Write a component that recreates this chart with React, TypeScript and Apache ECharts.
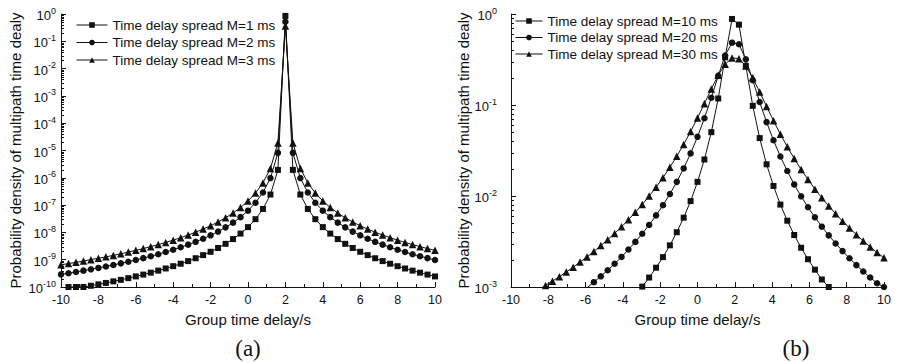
import React, { useEffect, useRef } from "react";
import * as echarts from "echarts";

const FONT = "'Liberation Sans', Arial, sans-serif";
const SERIF = "'Liberation Serif', 'Times New Roman', serif";
const INK = "#111";

// ---- Panel (a) ----
const xA = [-10, -9.6, -9.2, -8.8, -8.4, -8, -7.6, -7.2, -6.8, -6.4, -6, -5.6, -5.2, -4.8, -4.4, -4, -3.6, -3.2, -2.8, -2.4, -2, -1.6, -1.2, -0.8, -0.4, 0, 0.4, 0.8, 1.2, 1.6, 2, 2.4, 2.8, 3.2, 3.6, 4, 4.4, 4.8, 5.2, 5.6, 6, 6.4, 6.8, 7.2, 7.6, 8, 8.4, 8.8, 9.2, 9.6, 10];
const namesA = ["Time delay spread M=1 ms", "Time delay spread M=2 ms", "Time delay spread M=3 ms"];
const m1 = [7.2e-11, 1.0e-10, 1.0e-10, 1.0e-10, 1.11e-10, 1.25e-10, 1.41e-10, 1.61e-10, 1.83e-10, 2.11e-10, 2.44e-10, 2.85e-10, 3.35e-10, 3.98e-10, 4.77e-10, 5.79e-10, 7.12e-10, 8.89e-10, 1.13e-9, 1.47e-9, 1.95e-9, 2.68e-9, 3.81e-9, 5.69e-9, 9.04e-9, 1.56e-8, 3.05e-8, 7.23e-8, 2.44e-7, 1.95e-6, 0.85, 1.95e-6, 2.44e-7, 7.23e-8, 3.05e-8, 1.56e-8, 9.04e-9, 5.69e-9, 3.81e-9, 2.68e-9, 1.95e-9, 1.47e-9, 1.13e-9, 8.89e-10, 7.12e-10, 5.79e-10, 4.77e-10, 3.98e-10, 3.35e-10, 2.85e-10, 2.44e-10];
const m2 = [2.89e-10, 3.2e-10, 3.56e-10, 3.97e-10, 4.44e-10, 5.0e-10, 5.65e-10, 6.42e-10, 7.34e-10, 8.44e-10, 9.77e-10, 1.14e-9, 1.34e-9, 1.59e-9, 1.91e-9, 2.31e-9, 2.85e-9, 3.56e-9, 4.52e-9, 5.87e-9, 7.81e-9, 1.07e-8, 1.53e-8, 2.28e-8, 3.62e-8, 6.25e-8, 1.22e-7, 2.89e-7, 9.77e-7, 8.2e-6, 0.52, 8.2e-6, 9.77e-7, 2.89e-7, 1.22e-7, 6.25e-8, 3.62e-8, 2.28e-8, 1.53e-8, 1.07e-8, 7.81e-9, 5.87e-9, 4.52e-9, 3.56e-9, 2.85e-9, 2.31e-9, 1.91e-9, 1.59e-9, 1.34e-9, 1.14e-9, 9.77e-10];
const m3 = [6.51e-10, 7.21e-10, 8.01e-10, 8.93e-10, 1.0e-9, 1.13e-9, 1.27e-9, 1.44e-9, 1.65e-9, 1.9e-9, 2.2e-9, 2.56e-9, 3.01e-9, 3.58e-9, 4.29e-9, 5.21e-9, 6.41e-9, 8.0e-9, 1.02e-8, 1.32e-8, 1.76e-8, 2.41e-8, 3.43e-8, 5.13e-8, 8.14e-8, 1.41e-7, 2.75e-7, 6.51e-7, 2.2e-6, 1.9e-5, 0.36, 1.9e-5, 2.2e-6, 6.51e-7, 2.75e-7, 1.41e-7, 8.14e-8, 5.13e-8, 3.43e-8, 2.41e-8, 1.76e-8, 1.32e-8, 1.02e-8, 8.0e-9, 6.41e-9, 5.21e-9, 4.29e-9, 3.58e-9, 3.01e-9, 2.56e-9, 2.2e-9];

// ---- Panel (b) ----
const xB = [-10, -9.63, -9.259, -8.889, -8.519, -8.148, -7.778, -7.407, -7.037, -6.667, -6.296, -5.926, -5.556, -5.185, -4.815, -4.444, -4.074, -3.704, -3.333, -2.963, -2.593, -2.222, -1.852, -1.481, -1.111, -0.741, -0.37, 0, 0.37, 0.741, 1.111, 1.481, 1.852, 2.222, 2.593, 2.963, 3.333, 3.704, 4.074, 4.444, 4.815, 5.185, 5.556, 5.926, 6.296, 6.667, 7.037, 7.407, 7.778, 8.148, 8.519, 8.889, 9.259, 9.63, 10];
const namesB = ["Time delay spread M=10 ms", "Time delay spread M=20 ms", "Time delay spread M=30 ms"];
const m10 = [7.2e-5, 7.9e-5, 8.8e-5, 9.7e-5, 1.07e-4, 1.2e-4, 1.33e-4, 1.5e-4, 1.69e-4, 1.91e-4, 2.18e-4, 2.5e-4, 2.88e-4, 3.35e-4, 3.92e-4, 4.63e-4, 5.52e-4, 6.66e-4, 8.13e-4, 1.01e-3, 1.27e-3, 1.63e-3, 2.13e-3, 2.87e-3, 4.0e-3, 5.78e-3, 8.79e-3, 0.0143, 0.0252, 0.0503, 0.118, 0.334, 0.882, 0.764, 0.268, 0.0979, 0.0433, 0.0223, 0.0129, 8.05e-3, 5.35e-3, 3.73e-3, 2.7e-3, 2.02e-3, 1.55e-3, 1.21e-3, 1.0e-3, 7.8e-4, 6.4e-4, 5.3e-4, 4.5e-4, 3.8e-4, 3.2e-4, 2.8e-4, 2.4e-4];
const m20 = [2.86e-4, 3.14e-4, 3.46e-4, 3.83e-4, 4.24e-4, 4.71e-4, 5.27e-4, 5.91e-4, 6.65e-4, 7.53e-4, 8.57e-4, 9.81e-4, 1.13e-3, 1.31e-3, 1.53e-3, 1.8e-3, 2.14e-3, 2.58e-3, 3.13e-3, 3.85e-3, 4.81e-3, 6.12e-3, 7.93e-3, 0.0105, 0.0143, 0.0201, 0.0294, 0.0447, 0.0715, 0.12, 0.209, 0.35, 0.484, 0.465, 0.318, 0.187, 0.108, 0.0648, 0.041, 0.0272, 0.0188, 0.0134, 9.92e-3, 7.52e-3, 5.83e-3, 4.6e-3, 3.69e-3, 3.01e-3, 2.48e-3, 2.07e-3, 1.74e-3, 1.48e-3, 1.27e-3, 1.1e-3, 1.0e-3];
const m30 = [6.36e-4, 6.98e-4, 7.68e-4, 8.47e-4, 9.38e-4, 1.04e-3, 1.16e-3, 1.3e-3, 1.46e-3, 1.65e-3, 1.88e-3, 2.14e-3, 2.46e-3, 2.85e-3, 3.31e-3, 3.88e-3, 4.59e-3, 5.48e-3, 6.62e-3, 8.07e-3, 9.97e-3, 0.0125, 0.0159, 0.0207, 0.0273, 0.0369, 0.051, 0.072, 0.1035, 0.15, 0.212, 0.281, 0.329, 0.323, 0.268, 0.199, 0.139, 0.0962, 0.0671, 0.0477, 0.0347, 0.0258, 0.0196, 0.0152, 0.0119, 9.55e-3, 7.75e-3, 6.37e-3, 5.29e-3, 4.44e-3, 3.76e-3, 3.21e-3, 2.76e-3, 2.39e-3, 2.09e-3];

const xTicks = [-10, -8, -6, -4, -2, 0, 2, 4, 6, 8, 10];
const yTitle = "Probability density of multipath time dealy";
const xTitle = "Group time delay/s";
const symbols = ["rect", "circle", "triangle"];
const symbolSizes = [6, 6.5, 7.5];

function logMinors(lo: number, hi: number) {
  const out: number[] = [];
  for (let e = lo; e < hi; e++) for (let m = 2; m <= 9; m++) out.push(m * Math.pow(10, e));
  return out;
}

function minorTickSeries(idx: number, vals: number[]) {
  return {
    type: "custom",
    xAxisIndex: idx,
    yAxisIndex: idx,
    silent: true,
    clip: false,
    z: 5,
    data: vals.map((v) => [xTicks[0], v]),
    renderItem: (_p: any, api: any) => {
      const p = api.coord([api.value(0), api.value(1)]);
      const y = Math.round(p[1]) + 0.5;
      return {
        type: "line",
        shape: { x1: p[0], y1: y, x2: p[0] + 3, y2: y },
        style: { stroke: INK, lineWidth: 1 },
      };
    },
  };
}

function lineSeries(name: string, idx: number, xs: number[], ys: number[], k: number) {
  return {
    name,
    type: "line",
    xAxisIndex: idx,
    yAxisIndex: idx,
    data: xs.map((x, i) => [x, ys[i]]),
    symbol: symbols[k],
    symbolSize: symbolSizes[k],
    showSymbol: true,
    clip: true,
    lineStyle: { color: INK, width: 1 },
    itemStyle: { color: INK },
    emphasis: { disabled: true },
  };
}

const xAxisCommon = (idx: number) => ({
  type: "value",
  gridIndex: idx,
  min: -10,
  max: 10,
  interval: 2,
  name: xTitle,
  nameLocation: "middle",
  nameGap: 25,
  nameTextStyle: { fontFamily: FONT, fontSize: 15, color: INK },
  axisLine: { show: true, onZero: false, lineStyle: { color: INK, width: 1 } },
  axisTick: { show: true, inside: true, length: 5, lineStyle: { color: INK } },
  minorTick: { show: true, splitNumber: 2, length: 3, lineStyle: { color: INK } },
  splitLine: { show: false },
  minorSplitLine: { show: false },
  axisLabel: { fontFamily: FONT, fontSize: 12.5, color: INK, margin: 6 },
});

const yAxisCommon = (idx: number, min: number, nameGap: number, margin: number) => ({
  type: "log",
  logBase: 10,
  gridIndex: idx,
  min,
  max: 1,
  interval: 1,
  name: yTitle,
  nameLocation: "middle",
  nameGap,
  nameTextStyle: { fontFamily: FONT, fontSize: 15, color: INK },
  axisLine: { show: true, onZero: false, lineStyle: { color: INK, width: 1 } },
  axisTick: { show: true, inside: true, length: 5, lineStyle: { color: INK } },
  splitLine: { show: false },
  axisLabel: {
    margin,
    formatter: (v: number) => `{b|10}{s|${Math.round(Math.log10(v))}}`,
    rich: {
      b: { fontFamily: FONT, fontSize: 13, color: INK, lineHeight: 16, verticalAlign: "bottom" },
      s: { fontFamily: FONT, fontSize: 9, color: INK, lineHeight: 9, verticalAlign: "top" },
    },
  },
});

const legendCommon = {
  orient: "vertical",
  selectedMode: false,
  itemHeight: 7,
  textStyle: { fontFamily: FONT, fontSize: 13.5, color: INK, lineHeight: 14 },
  itemStyle: { color: INK },
  lineStyle: { color: INK, width: 1 },
  padding: 0,
};

export default function App() {
  const ref = useRef<HTMLDivElement>(null);
  useEffect(() => {
    if (!ref.current) return;
    const chart = echarts.init(ref.current, undefined, { renderer: "svg" });
    chart.setOption({
      animation: false,
      backgroundColor: "#fff",
      grid: [
        { left: 61, top: 14, width: 374, height: 273 },
        { left: 511, top: 14, width: 373, height: 273 },
      ],
      xAxis: [xAxisCommon(0), xAxisCommon(1)],
      yAxis: [yAxisCommon(0, 1e-10, 38, 5), yAxisCommon(1, 1e-3, 35, 14)],
      legend: [
        { ...legendCommon, data: namesA, left: 76, top: 18, itemWidth: 31, itemGap: 3.5 },
        { ...legendCommon, data: namesB, left: 515, top: 14, itemWidth: 27, itemGap: 2.5 },
      ],
      series: [
        lineSeries(namesA[0], 0, xA, m1, 0),
        lineSeries(namesA[1], 0, xA, m2, 1),
        lineSeries(namesA[2], 0, xA, m3, 2),
        lineSeries(namesB[0], 1, xB, m10, 0),
        lineSeries(namesB[1], 1, xB, m20, 1),
        lineSeries(namesB[2], 1, xB, m30, 2),
        minorTickSeries(0, logMinors(-10, 0)),
        minorTickSeries(1, logMinors(-3, 0)),
      ],
      graphic: [
        { type: "text", x: 248, y: 348, style: { text: "(a)", fontFamily: SERIF, fontSize: 23, fill: INK, textAlign: "center", textVerticalAlign: "middle" } },
        { type: "text", x: 796, y: 348, style: { text: "(b)", fontFamily: SERIF, fontSize: 23, fill: INK, textAlign: "center", textVerticalAlign: "middle" } },
      ],
    });
    return () => chart.dispose();
  }, []);
  return <div ref={ref} style={{ position: "fixed", left: 0, top: 0, width: 898, height: 362 }} />;
}
